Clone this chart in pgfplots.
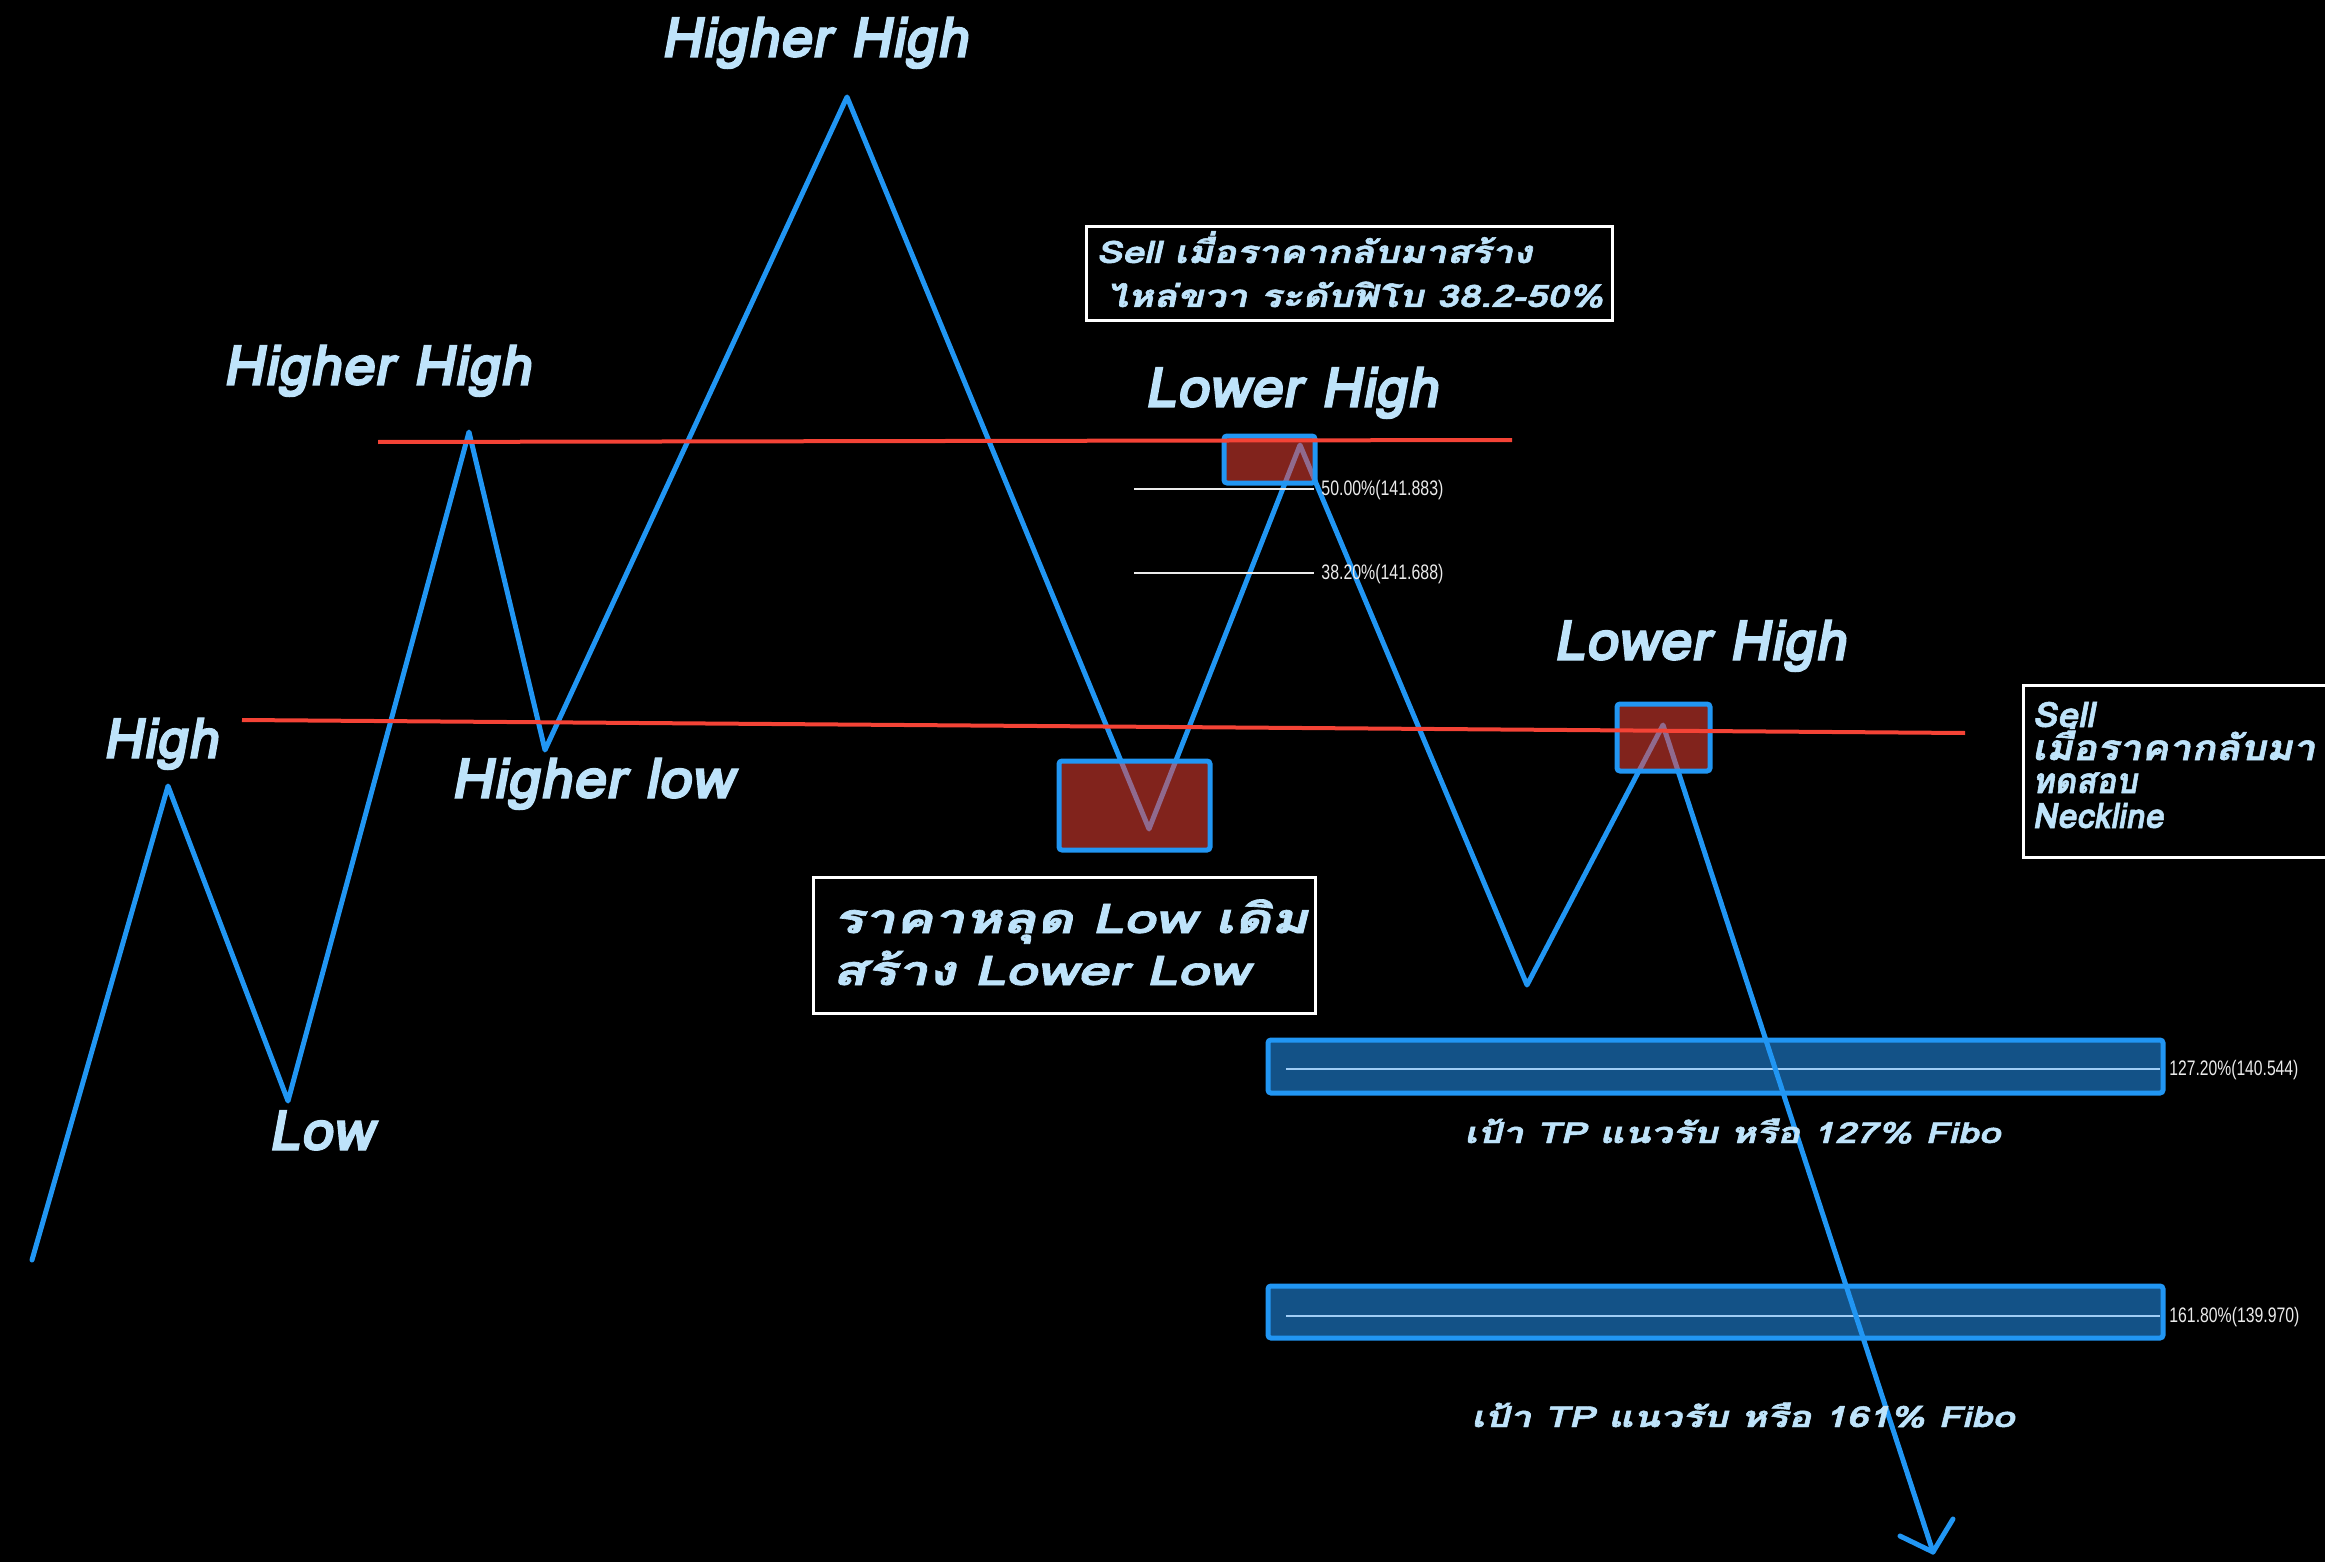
\documentclass[border=0pt]{standalone}
\usepackage{pgfplots}
\pgfplotsset{compat=1.18}
\usepackage{graphicx}
\usepackage{fontspec}
\setmainfont{Liberation Sans}
\newfontfamily\thaiB[Script=Thai, FakeSlant=0.18, BoldFeatures={FakeBold=2}]{Loma}
\newfontfamily\thaiM[Script=Thai, FakeSlant=0.18, BoldFeatures={FakeBold=1.6}]{Loma}
\newfontfamily\lib{Liberation Sans}
\definecolor{lineblue}{RGB}{33,150,243}
\definecolor{lred}{RGB}{244,67,54}
\definecolor{lbl}{RGB}{190,227,250}
\definecolor{tpfill}{RGB}{19,82,135}
\definecolor{tpline}{RGB}{160,205,245}
\definecolor{fibw}{RGB}{235,235,235}
% #1 width, #2 font size, #3 text
\newcommand{\tx}[3]{\resizebox{#1}{\height}{\thaiB\bfseries\fontsize{#2}{#2}\selectfont #3}}
\newcommand{\tm}[3]{\resizebox{#1}{\height}{\thaiM\bfseries\fontsize{#2}{#2}\selectfont #3}}
\newcommand{\fb}[2]{\resizebox{#1}{\height}{\lib\fontsize{10.5}{10.5}\selectfont #2}}
\begin{document}
\begin{tikzpicture}
\begin{axis}[width=1162.5pt, height=781pt, scale only axis,
  xmin=0, xmax=2325, ymin=0, ymax=1562, y dir=reverse,
  hide axis, clip=false]
\coordinate (BL) at (axis cs:0,1562);
\coordinate (TR) at (axis cs:2325,0);
\fill[black] (axis cs:-5,-5) rectangle (axis cs:2335,1570);

% TP boxes
\addplot[draw=lineblue, line width=2.5pt, fill=tpfill, rounded corners=1.5pt] coordinates {(1268,1040) (2163,1040) (2163,1093) (1268,1093)} -- cycle;
\addplot[draw=lineblue, line width=2.5pt, fill=tpfill, rounded corners=1.5pt] coordinates {(1268,1286) (2163,1286) (2163,1338) (1268,1338)} -- cycle;
\addplot[tpline, line width=1.4pt] coordinates {(1286,1069) (2160,1069)};
\addplot[tpline, line width=1.4pt] coordinates {(1286,1316) (2160,1316)};

% zigzag
\addplot[lineblue, line width=2.5pt, line join=round, line cap=round] coordinates {
(32,1260) (168,786) (288,1101) (469,432) (545,750) (847,97) (1149,829) (1300,445) (1527,985) (1663,725) (1933,1552)};
\addplot[lineblue, line width=2.5pt, line join=round, line cap=round] coordinates {(1900,1536) (1933,1552) (1953,1519)};

% fib lines
\addplot[fibw, line width=1.3pt] coordinates {(1134,489) (1314,489)};
\addplot[fibw, line width=1.3pt] coordinates {(1134,573) (1314,573)};

% red boxes
\addplot[draw=lineblue, line width=2.5pt, fill=lred, fill opacity=0.53, rounded corners=1.5pt] coordinates {(1059,761) (1210,761) (1210,850) (1059,850)} -- cycle;
\addplot[draw=lineblue, line width=2.5pt, fill=lred, fill opacity=0.53, rounded corners=1.5pt] coordinates {(1224,436) (1315,436) (1315,483) (1224,483)} -- cycle;
\addplot[draw=lineblue, line width=2.5pt, fill=lred, fill opacity=0.53, rounded corners=1.5pt] coordinates {(1617,704) (1710,704) (1710,771) (1617,771)} -- cycle;

% red lines
\addplot[lred, line width=2pt] coordinates {(378,442) (1512,440)};
\addplot[lred, line width=2pt] coordinates {(242,720) (1965,733)};

% fib labels
\node[anchor=base west, inner sep=0pt, text=fibw] at (axis cs:1321,495) {\fb{61pt}{50.00\%(141.883)}};
\node[anchor=base west, inner sep=0pt, text=fibw] at (axis cs:1321,579) {\fb{61pt}{38.20\%(141.688)}};
\node[anchor=base west, inner sep=0pt, text=fibw] at (axis cs:2169,1075) {\fb{64.5pt}{127.20\%(140.544)}};
\node[anchor=base west, inner sep=0pt, text=fibw] at (axis cs:2169,1322) {\fb{65pt}{161.80\%(139.970)}};

% big labels
\node[anchor=base west, inner sep=0pt, text=lbl] at (axis cs:660,57) {\tx{154pt}{28}{Higher High}};
\node[anchor=base west, inner sep=0pt, text=lbl] at (axis cs:222,385) {\tx{154.5pt}{28}{Higher High}};
\node[anchor=base west, inner sep=0pt, text=lbl] at (axis cs:102,758) {\tx{58pt}{28}{High}};
\node[anchor=base west, inner sep=0pt, text=lbl] at (axis cs:268,1150) {\tx{52.5pt}{28}{Low}};
\node[anchor=base west, inner sep=0pt, text=lbl] at (axis cs:450,798) {\tx{141.5pt}{28}{Higher low}};
\node[anchor=base west, inner sep=0pt, text=lbl] at (axis cs:1144,407) {\tx{147pt}{28}{Lower High}};
\node[anchor=base west, inner sep=0pt, text=lbl] at (axis cs:1553,660) {\tx{146.5pt}{28}{Lower High}};

% TP texts
\node[anchor=base west, inner sep=0pt, text=lbl] at (axis cs:1464,1143) {\tm{268pt}{14.5}{เป้า TP แนวรับ หรือ 127\% Fibo}};
\node[anchor=base west, inner sep=0pt, text=lbl] at (axis cs:1471,1427) {\tm{271.5pt}{14.5}{เป้า TP แนวรับ หรือ 161\% Fibo}};

% text box A
\draw[white, line width=1.5pt] (axis cs:1086,227) rectangle (axis cs:1612,321);
\node[anchor=base west, inner sep=0pt, text=lbl] at (axis cs:1096,263) {\tm{218pt}{15.5}{Sell เมื่อราคากลับมาสร้าง}};
\node[anchor=base west, inner sep=0pt, text=lbl] at (axis cs:1106,307) {\tm{248.5pt}{15.5}{ไหล่ขวา ระดับฟิโบ 38.2-50\%}};

% text box B
\draw[white, line width=1.5pt] (axis cs:813,877) rectangle (axis cs:1315,1013);
\node[anchor=base west, inner sep=0pt, text=lbl] at (axis cs:833,933) {\tm{237.5pt}{20.5}{ราคาหลุด Low เดิม}};
\node[anchor=base west, inner sep=0pt, text=lbl] at (axis cs:832,985) {\tm{208.5pt}{20.5}{สร้าง Lower Low}};

% text box C
\draw[white, line width=1.5pt] (axis cs:2023,685) rectangle (axis cs:2345,857);
\node[anchor=base west, inner sep=0pt, text=lbl] at (axis cs:2032,727) {\tm{31pt}{17.5}{Sell}};
\node[anchor=base west, inner sep=0pt, text=lbl] at (axis cs:2032,760) {\tm{141.5pt}{17.5}{เมื่อราคากลับมา}};
\node[anchor=base west, inner sep=0pt, text=lbl] at (axis cs:2032,793) {\tm{52.5pt}{17.5}{ทดสอบ}};
\node[anchor=base west, inner sep=0pt, text=lbl] at (axis cs:2032,828) {\tm{65.5pt}{17.5}{Neckline}};
\end{axis}
\pgfresetboundingbox
\useasboundingbox (BL) rectangle (TR);
\end{tikzpicture}
\end{document}
